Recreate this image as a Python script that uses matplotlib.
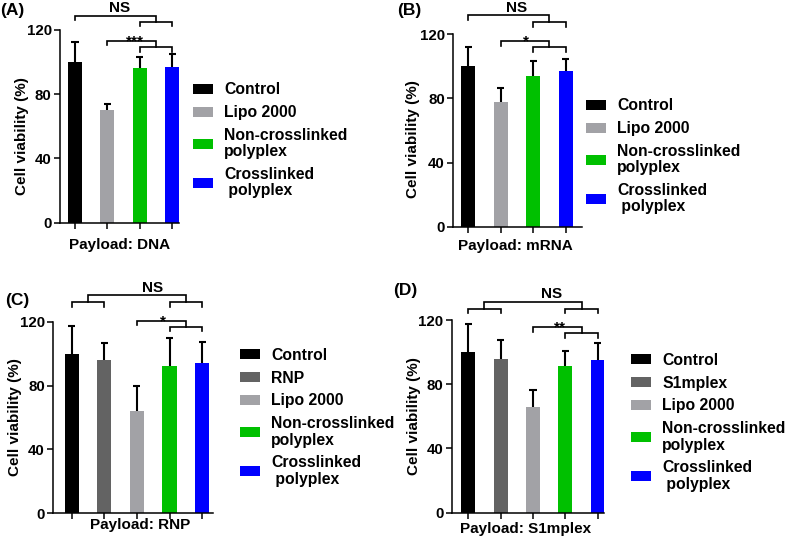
import numpy as np
import matplotlib
matplotlib.use('Agg')
import matplotlib.pyplot as plt
from matplotlib.patches import Patch

plt.rcParams['font.family'] = 'Liberation Sans'
plt.rcParams['font.weight'] = 'bold'

# colours of the groups
c_control = '#000000'
c_carrier = '#636363'
c_lipo = '#a2a2a6'
c_noncl = '#00c000'
c_cl = '#0000ff'

# panel A: DNA payload
labels_a = ['Control', 'Lipo 2000', 'Non-crosslinked\npolyplex', 'Crosslinked\n polyplex']
means_a = [100, 70.2, 96.1, 97.1]
errs_a = [12.6, 3.5, 7.1, 8.1]

# panel B: mRNA payload
labels_b = ['Control', 'Lipo 2000', 'Non-crosslinked\npolyplex', 'Crosslinked\n polyplex']
means_b = [100, 77.8, 93.9, 97.3]
errs_b = [12.1, 8.9, 9.4, 7.5]

# panel C: RNP payload
labels_c = ['Control', 'RNP', 'Lipo 2000', 'Non-crosslinked\npolyplex', 'Crosslinked\n polyplex']
means_c = [100, 96, 64.2, 92.2, 93.9]
errs_c = [17.3, 10.4, 15.5, 17.4, 13.6]

# panel D: S1mplex payload
labels_d = ['Control', 'S1mplex', 'Lipo 2000', 'Non-crosslinked\npolyplex', 'Crosslinked\n polyplex']
means_d = [100, 95.7, 66, 91.3, 95.1]
errs_d = [17.5, 11.8, 10.4, 9.4, 10.7]

W, H = 800, 537
fig = plt.figure(figsize=(W / 100, H / 100), dpi=100)


def px_axes(left, top, right, bottom):
    return fig.add_axes([left / W, 1 - bottom / H, (right - left) / W, (bottom - top) / H])


def bracket(ax, x1, x2, y, y1_end, y2_end):
    ax.plot([x1, x1, x2, x2], [y1_end, y, y, y2_end], color='black', lw=1.2,
            clip_on=False, solid_joinstyle='miter')


def draw_panel(box, c0, step, labels, means, errs, colors, brackets, sig_text, letter,
               letter_xy, ylab_xy, xlab, xlab_xy, leg_xy):
    left, top, right, bottom = box
    ax = px_axes(*box)
    x = np.arange(len(means))
    ax.bar(x, means, width=0.43, color=colors, zorder=2)
    ax.vlines(x, means, np.array(means) + np.array(errs), color='black', lw=1.5, zorder=1)
    ax.hlines(np.array(means) + np.array(errs), x - 0.11, x + 0.11, color='black', lw=1.5, zorder=1)

    ax.set_xlim((left - c0) / step, (right - c0) / step)
    ax.set_ylim(0, 120)
    ax.set_yticks([0, 40, 80, 120])
    ax.set_xticks(x)
    ax.set_xticklabels([])
    ax.tick_params(axis='both', direction='out', length=4.5, width=1.1, pad=1.5, labelsize=10.8)
    for s in ['top', 'right']:
        ax.spines[s].set_visible(False)
    for s in ['left', 'bottom']:
        ax.spines[s].set_linewidth(1.1)

    for b in brackets:
        bracket(ax, *b)
    for txt, tx, ty in sig_text:
        ax.text(tx, ty, txt, ha='center', va='baseline', fontsize=11, clip_on=False)

    fig.text(letter_xy[0] / W, 1 - letter_xy[1] / H, letter, fontsize=12.5, ha='left', va='center')
    fig.text(ylab_xy[0] / W, 1 - ylab_xy[1] / H, 'Cell viability (%)', rotation=90,
             fontsize=11, ha='center', va='center')
    fig.text(xlab_xy[0] / W, 1 - xlab_xy[1] / H, xlab, fontsize=11, ha='center', va='center')

    handles = [Patch(facecolor=c) for c in colors]
    leg = ax.legend(handles, labels, loc='upper left',
                    bbox_to_anchor=(leg_xy[0] / W, 1 - leg_xy[1] / H),
                    bbox_transform=fig.transFigure, frameon=False, borderpad=0, borderaxespad=0,
                    fontsize=11.3, handlelength=1.3, handleheight=0.6, handletextpad=0.7,
                    labelspacing=0.5)
    for t in leg.get_texts():
        t.set_linespacing(1.1)
    return ax


# panel A
draw_panel((60, 30, 179, 222.7), 75, 32.4, labels_a, means_a, errs_a,
           [c_control, c_lipo, c_noncl, c_cl],
           [(2, 3, 125.1, 122.5, 122.5), (0, 2.5, 128.9, 126.2, 125.1),
            (2, 3, 109.2, 106.5, 106.5), (1, 2.5, 113.3, 110.6, 109.2)],
           [('NS', 1.39, 131.0), ('***', 1.85, 110.5)],
           '(A)', (0, 10), (22.5, 136), 'Payload: DNA', (120, 245.5), (193, 82.5))

# panel B
draw_panel((453.3, 34.3, 581.7, 226.7), 468.3, 32.45, labels_b, means_b, errs_b,
           [c_control, c_lipo, c_noncl, c_cl],
           [(2, 3, 127.9, 124.8, 124.8), (0, 2.5, 132.0, 129.0, 127.9),
            (2, 3, 112.0, 109.0, 109.0), (1, 2.5, 116.0, 113.0, 112.0)],
           [('NS', 1.49, 134.2), ('*', 1.78, 113.2)],
           '(B)', (397, 10), (413, 139), 'Payload: mRNA', (515.8, 246.5), (586, 98.5))

# panel C
draw_panel((53.3, 321.7, 213, 513.3), 71.7, 32.6, labels_c, means_c, errs_c,
           [c_control, c_carrier, c_lipo, c_noncl, c_cl],
           [(0, 1, 132.1, 129.0, 129.0), (3, 4, 132.1, 129.0, 129.0),
            (0.5, 3.5, 136.7, 132.1, 132.1),
            (3, 4, 116.8, 114.2, 114.2), (2, 3.5, 120.6, 117.9, 116.8)],
           [('NS', 2.49, 138.9), ('*', 2.81, 117.8)],
           '(C)', (5, 300.5), (15, 417.5), 'Payload: RNP', (140.5, 525), (240, 347.8))

# panel D
draw_panel((451.7, 320, 604, 512.7), 468.3, 32.35, labels_d, means_d, errs_d,
           [c_control, c_carrier, c_lipo, c_noncl, c_cl],
           [(0, 1, 126.8, 124.1, 124.1), (3, 4, 126.8, 124.1, 124.1),
            (0.5, 3.5, 131.4, 126.8, 126.8),
            (3, 4, 111.7, 108.6, 108.6), (2, 3.5, 115.4, 112.3, 111.7)],
           [('NS', 2.58, 133.6), ('**', 2.83, 112.6)],
           '(D)', (393, 291), (414, 415.7), 'Payload: S1mplex', (525.8, 529), (631, 352.8))

fig.savefig('out.png', dpi=100)
